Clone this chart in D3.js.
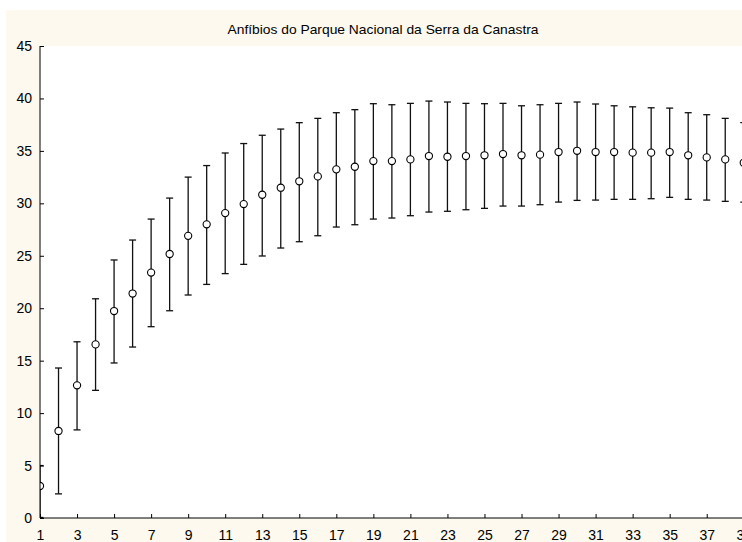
<!DOCTYPE html>
<html>
<head>
<meta charset="utf-8">
<script src="https://cdn.jsdelivr.net/npm/d3@7/dist/d3.min.js"></script>
<style>
  html, body { margin: 0; padding: 0; background: #ffffff; }
  svg { display: block; }
</style>
</head>
<body>
<script>
const title = "Anfíbios do Parque Nacional da Serra da Canastra";
const samples = d3.range(1, 40);
const means = [3.05, 8.3, 12.65, 16.55, 19.73, 21.4, 23.4, 25.17, 26.9, 28.0,
  29.07, 29.93, 30.82, 31.49, 32.1, 32.57, 33.24, 33.49, 34.03, 34.03,
  34.19, 34.51, 34.44, 34.51, 34.58, 34.7, 34.58, 34.64, 34.89, 35.01,
  34.89, 34.89, 34.83, 34.83, 34.89, 34.58, 34.38, 34.19, 33.87];
const upper = [5.0, 14.3, 16.8, 20.9, 24.6, 26.5, 28.5, 30.5, 32.5, 33.6,
  34.8, 35.7, 36.49, 37.08, 37.69, 38.1, 38.64, 38.93, 39.5, 39.4,
  39.53, 39.75, 39.66, 39.53, 39.5, 39.53, 39.3, 39.4, 39.53, 39.66,
  39.47, 39.3, 39.2, 39.11, 39.08, 38.64, 38.45, 38.1, 37.69];
const lower = [0.05, 2.3, 8.4, 12.17, 14.78, 16.3, 18.24, 19.76, 21.26, 22.27,
  23.3, 24.18, 24.98, 25.74, 26.34, 26.91, 27.74, 27.96, 28.5, 28.6,
  28.82, 29.17, 29.24, 29.39, 29.52, 29.74, 29.74, 29.87, 30.12, 30.28,
  30.31, 30.38, 30.38, 30.44, 30.57, 30.38, 30.31, 30.19, 30.12];
const yTicks = [0, 5, 10, 15, 20, 25, 30, 35, 40, 45];
const xTicks = d3.range(1, 40, 2);

const W = 742, H = 542;
const plot = { left: 40, top: 46, bottom: 518 };

const svg = d3.select("body").append("svg").attr("width", W).attr("height", H);

// cream frame
svg.append("rect").attr("x", 6).attr("y", 10).attr("width", W).attr("height", H)
  .attr("fill", "#fdf9ee");
// plot area
svg.append("rect").attr("x", plot.left).attr("y", plot.top)
  .attr("width", W - plot.left + 10).attr("height", plot.bottom - plot.top)
  .attr("fill", "#ffffff");

svg.append("text").attr("x", 383).attr("y", 34).attr("text-anchor", "middle")
  .attr("font-family", "Liberation Sans, Arial, sans-serif").attr("font-size", 13.6)
  .attr("textLength", 311).attr("lengthAdjust", "spacingAndGlyphs")
  .attr("fill", "#000").text(title);

const x = d3.scaleLinear().domain([1, 39]).range([40, 40 + 38 * 18.52]);
const y = d3.scaleLinear().domain([0, 45]).range([plot.bottom, plot.top]);

svg.append("defs").append("clipPath").attr("id", "clip")
  .append("rect").attr("x", plot.left).attr("y", 0).attr("width", W).attr("height", H);

const g = svg.append("g").attr("clip-path", "url(#clip)");
const data = samples.map((s, i) => ({ s, m: means[i], hi: upper[i], lo: lower[i] }));

const bars = g.selectAll("g.bar").data(data).join("g").attr("class", "bar");
bars.append("line").attr("x1", d => x(d.s)).attr("x2", d => x(d.s))
  .attr("y1", d => y(d.lo)).attr("y2", d => y(d.hi))
  .attr("stroke", "#111").attr("stroke-width", 1.3);
bars.append("line").attr("x1", d => x(d.s) - 3.5).attr("x2", d => x(d.s) + 3.5)
  .attr("y1", d => y(d.hi)).attr("y2", d => y(d.hi))
  .attr("stroke", "#111").attr("stroke-width", 1.3);
bars.append("line").attr("x1", d => x(d.s) - 3.5).attr("x2", d => x(d.s) + 3.5)
  .attr("y1", d => y(d.lo)).attr("y2", d => y(d.lo))
  .attr("stroke", "#111").attr("stroke-width", 1.3);
bars.append("circle").attr("cx", d => x(d.s)).attr("cy", d => y(d.m)).attr("r", 3.6)
  .attr("fill", "#fff").attr("stroke", "#000").attr("stroke-width", 1.1);

const font = "Liberation Sans, Arial, sans-serif";
const yAxis = svg.append("g").attr("transform", `translate(${plot.left},0)`)
  .call(d3.axisLeft(y).tickValues(yTicks).tickSizeInner(-4).tickSizeOuter(0).tickPadding(8));
const xAxis = svg.append("g").attr("transform", `translate(0,${plot.bottom})`)
  .call(d3.axisBottom(x).tickValues(xTicks).tickSizeInner(-4).tickSizeOuter(0).tickPadding(12));
[yAxis, xAxis].forEach(a => {
  a.selectAll("text").attr("font-family", font).attr("font-size", 14).attr("fill", "#000");
  a.selectAll("line").attr("stroke", "#000");
  a.select(".domain").attr("stroke", "#000");
});
yAxis.select(".domain").attr("d", `M0,${plot.top}V${plot.bottom}`);
xAxis.select(".domain").attr("d", `M${plot.left},0H${W + 10}`);
</script>
</body>
</html>
